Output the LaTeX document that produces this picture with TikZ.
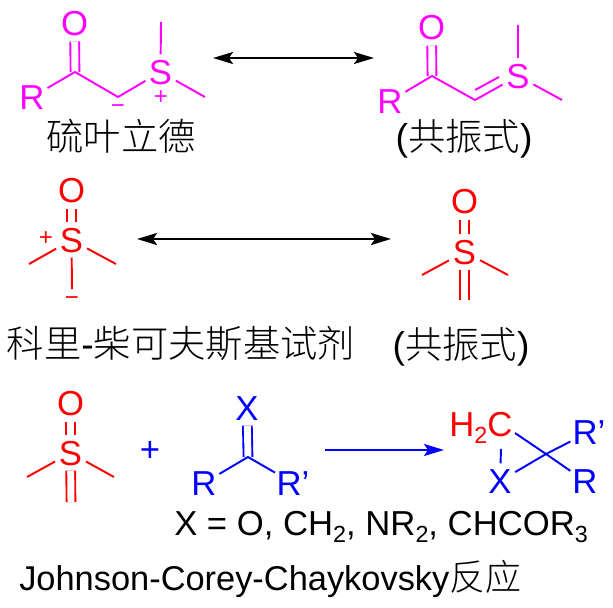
\documentclass[tikz,border=0pt]{standalone}
\usepackage{fontspec}
\setmainfont{Liberation Sans}
\newfontfamily\cjk[UprightFont={* Light}]{Noto Sans CJK SC}
\usetikzlibrary{arrows.meta}
\definecolor{mag}{RGB}{255,0,255}
\definecolor{bl}{RGB}{0,0,255}
\definecolor{rd}{RGB}{255,0,0}
\newcommand{\sbs}[1]{\raisebox{-5.5pt}{\fontsize{17.5}{17.5}\selectfont #1}}
\tikzset{
  x=0.75pt,y=-0.75pt,
  atom/.style={circle,inner sep=0pt,minimum size=26pt,font=\fontsize{26}{26}\selectfont,text height=18.6pt,text depth=0pt},
  chg/.style={inner sep=0pt,font=\fontsize{18}{18}\selectfont},
  bond/.style={line width=1.45pt},
  dbl/.style={line width=1.4pt,double,double distance=5.2pt},
  lab/.style={inner sep=0pt,anchor=base,font=\fontsize{28}{28}\selectfont,text=black},
  latin/.style={inner sep=0pt,anchor=base west,font=\fontsize{26}{26}\selectfont,text=black},
  harrow/.style={line width=1.5pt,{Stealth[length=15pt,width=9pt,inset=3pt]}-{Stealth[length=15pt,width=9pt,inset=3pt]}},
}
\begin{document}
\begin{tikzpicture}
\useasboundingbox (0,0) rectangle (613,607);
\fill[white] (0,0) rectangle (613,607);
% molecule 1
\begin{scope}[mag]
\node[atom,text=mag] (a1O) at (74.5,23) {O};
\node[atom,text=mag] (a1R) at (32,97) {R};
\node[atom,text=mag] (a1S) at (160.5,72) {S};
\coordinate (a1C) at (75,72);
\coordinate (a1M) at (118,97);
\coordinate (a1T) at (161,22);
\coordinate (a1E) at (205,97);
\draw[dbl] (a1O) -- (a1C);
\draw[bond,line join=round] (a1R) -- (a1C) -- (a1M) -- (a1S);
\draw[bond] (a1S) -- (a1T);
\draw[bond] (a1S) -- (a1E);
\node[chg,text=mag] (a1p) at (161,98) {+};
\node[chg,text=mag] (a1m) at (118,109) {−};
% molecule 2
\node[atom,text=mag] (b1O) at (431.5,27) {O};
\node[atom,text=mag] (b1R) at (390,101) {R};
\node[atom,text=mag] (b1S) at (518,76) {S};
\coordinate (b1C) at (432,76);
\coordinate (b1M) at (475,100);
\coordinate (b1T) at (518,25);
\coordinate (b1E) at (562,100);
\coordinate (b1u) at (475,90);
\coordinate (b1v) at (499,77);
\draw[dbl] (b1O) -- (b1C);
\draw[bond,line join=round] (b1R) -- (b1C) -- (b1M) -- (b1S);
\draw[bond] (b1u) -- (b1v);
\draw[bond] (b1S) -- (b1T);
\draw[bond] (b1S) -- (b1E);
\end{scope}
\node[lab] (l1) at (121,150) {\cjk 硫叶立德};
\node[lab] (l2) at (464,150) {(\cjk 共振式\rmfamily)};
\coordinate (ar1a) at (213,58);
\coordinate (ar1b) at (374,58);
\draw[harrow] (ar1a) -- (ar1b);
% molecule 3
\begin{scope}[rd]
\node[atom,text=rd] (c1O) at (71.5,190) {O};
\node[atom,text=rd] (c1S) at (71.5,240) {S};
\coordinate (c1D) at (72,289);
\coordinate (c1L) at (29,264);
\coordinate (c1E) at (116,264);
\draw[dbl] (c1O) -- (c1S);
\draw[bond] (c1S) -- (c1L);
\draw[bond] (c1S) -- (c1E);
\draw[bond] (c1S) -- (c1D);
\node[chg,text=rd] (c1p) at (46,239) {+};
\node[chg,text=rd] (c1m) at (72,301) {−};
% molecule 4
\node[atom,text=rd] (d1O) at (464.5,201) {O};
\node[atom,text=rd] (d1S) at (464.5,252) {S};
\coordinate (d1D) at (464.5,300);
\coordinate (d1L) at (422,275);
\coordinate (d1E) at (508,275);
\draw[dbl] (d1O) -- (d1S);
\draw[dbl] (d1S) -- (d1D);
\draw[bond] (d1S) -- (d1L);
\draw[bond] (d1S) -- (d1E);
\end{scope}
\coordinate (ar2a) at (137,239);
\coordinate (ar2b) at (391,239);
\draw[harrow,line width=2pt] (ar2a) -- (ar2b);
\node[lab] (l3) at (181,357) {\cjk 科里\rmfamily -\cjk 柴可夫斯基试剂};
\node[lab] (l4) at (461,358) {(\cjk 共振式\rmfamily)};
% molecule 5
\begin{scope}[rd]
\node[atom,text=rd] (e1O) at (70.5,403) {O};
\node[atom,text=rd] (e1S) at (70.5,453) {S};
\coordinate (e1D) at (71,502);
\coordinate (e1L) at (27,477);
\coordinate (e1E) at (114,477);
\draw[dbl] (e1O) -- (e1S);
\draw[dbl] (e1S) -- (e1D);
\draw[bond] (e1S) -- (e1L);
\draw[bond] (e1S) -- (e1E);
\end{scope}
\node[atom,text=bl] (plus) at (150,449) {+};
% carbonyl
\begin{scope}[bl]
\node[atom,text=bl] (f1X) at (247,408) {X};
\node[atom,text=bl] (f1R) at (204,483) {R};
\node[atom,text=bl] (f1Q) at (293,483) {R'};
\coordinate (f1C) at (248,457);
\draw[dbl] (f1X) -- (f1C);
\draw[bond,line join=round] (f1R) -- (f1C) -- (f1Q);
\end{scope}
\coordinate (ar3a) at (325,450);
\coordinate (ar3b) at (444,450);
\draw[bl,line width=1.3pt,-{Stealth[length=15pt,width=9pt,inset=3pt]}] (ar3a) -- (ar3b);
% product
\node[latin,text=rd] (g1H) at (449,436) {H\sbs{2}C};
\begin{scope}[bl]
\coordinate (g1K) at (515,433);
\coordinate (g1U) at (501,449);
\coordinate (g1C) at (546,454);
\node[atom,text=bl] (g1X) at (500,481) {X};
\node[atom,text=bl] (g1R) at (585,481) {R};
\node[atom,text=bl] (g1Q) at (589,432) {R'};
\draw[bond] (g1K) -- (g1C) -- (g1R);
\draw[bond] (g1X) -- (g1C) -- (g1Q);
\draw[bond] (g1U) -- (g1X);
\end{scope}
\node[latin] (t1) at (174,535) {X = O, CH\sbs{2}, NR\sbs{2}, CHCOR\sbs{3}};
\node[latin,font=\fontsize{25.8}{26}\selectfont] (t2) at (19,590) {Johnson-Corey-Chaykovsky{\cjk\fontsize{27}{28}\selectfont 反应}};
\end{tikzpicture}
\end{document}
